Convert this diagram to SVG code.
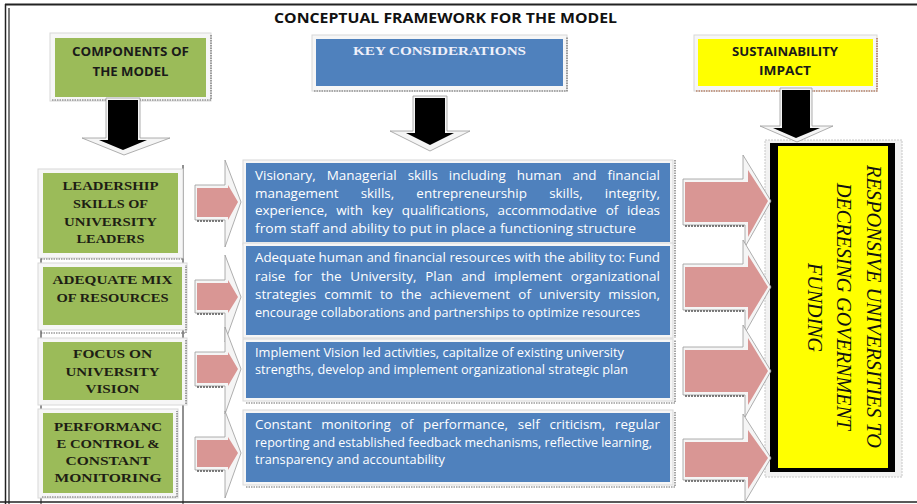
<svg xmlns="http://www.w3.org/2000/svg" width="917" height="504" viewBox="0 0 917 504">
<style>
.frame{stroke:#222;fill:none}
.halo{fill:#f6f6f6;stroke:#d8d8d8;stroke-width:1}
.dot{stroke:#6a6a6a;stroke-width:1.2;stroke-dasharray:1.5,1;fill:none}
.green{fill:#9BBB59}
.blue{fill:#4F81BD}
.yellow{fill:#FFFF00}
.hs{font-family:"Open Sans","Liberation Sans",sans-serif;font-weight:bold;fill:#1a1a1a;text-anchor:middle}
.sv{font-family:"Liberation Serif","Times New Roman",serif;font-weight:bold;font-size:13px;fill:#1e1e14;text-anchor:middle}
.bt{font-family:"Open Sans","Liberation Sans",sans-serif;font-size:12px;fill:#ffffff}
.vt{font-family:"Liberation Serif","Times New Roman",serif;font-style:italic;font-size:22px;fill:#111;text-anchor:middle}
.bev{fill:#f5f5f5;stroke:#9a9a9a;stroke-width:0.8}
.pink{fill:#D99694}
.blk{fill:#000}
.sh{stroke:#555;stroke-width:1.5;stroke-dasharray:2,1}
</style>

<!-- frame -->
<g id="frame">
<line class="frame" x1="5" y1="4.5" x2="917" y2="4.5" stroke-width="2"/>
<line class="frame" x1="5.5" y1="4" x2="5.5" y2="504" stroke-width="1.5"/>
<line class="frame" x1="9" y1="8" x2="9" y2="504" stroke-width="1.2"/>
<line class="frame" x1="0" y1="502" x2="917" y2="502" stroke-width="1.5"/>
<line class="frame" x1="183" y1="165" x2="183" y2="504" stroke-width="1"/>
<line class="frame" x1="41" y1="255" x2="41" y2="504" stroke-width="1"/>
</g>

<text id="title" x="445.5" y="22.5" font-family="'Open Sans','Liberation Sans',sans-serif" font-weight="bold" font-size="13.5" text-anchor="middle" textLength="343" lengthAdjust="spacingAndGlyphs" fill="#111">CONCEPTUAL FRAMEWORK FOR THE MODEL</text>

<!-- header boxes -->
<g id="header-components">
<rect class="halo" x="50" y="33" width="161" height="68"/>
<polyline class="dot" points="52,100 211,100 211,35"/>
<rect class="green" x="55" y="38" width="151" height="59"/>
<text class="hs" font-size="11.5" x="130.5" y="56" textLength="117" lengthAdjust="spacingAndGlyphs">COMPONENTS OF</text>
<text class="hs" font-size="11.5" x="130.5" y="76" textLength="76" lengthAdjust="spacingAndGlyphs">THE MODEL</text>
</g>
<g id="header-key">
<rect class="halo" x="312" y="35" width="255" height="56"/>
<polyline class="dot" points="314,91 567,91 567,37"/>
<rect class="blue" x="316" y="39" width="247" height="47"/>
<text x="439.5" y="55" font-family="'Liberation Serif','Times New Roman',serif" font-weight="bold" font-size="12" text-anchor="middle" fill="#eef0fa" textLength="173" lengthAdjust="spacingAndGlyphs">KEY CONSIDERATIONS</text>
</g>
<g id="header-impact">
<rect class="halo" x="694" y="35" width="183" height="56"/>
<polyline points="696,91 877,91 877,37" fill="none" stroke="#a0522d" stroke-width="1.2" stroke-dasharray="1.5,1"/>
<rect class="yellow" x="698" y="39" width="175" height="47"/>
<text class="hs" font-size="11.5" x="785" y="56" textLength="106" lengthAdjust="spacingAndGlyphs">SUSTAINABILITY</text>
<text class="hs" font-size="11.5" x="785" y="75" textLength="52" lengthAdjust="spacingAndGlyphs">IMPACT</text>
</g>

<!-- components -->
<g id="comp-leadership">
<rect class="halo" x="38" y="169" width="145" height="89"/>
<polyline class="dot" points="41,259 183,259"/>
<rect class="green" x="43" y="173" width="135" height="80"/>
<text class="sv" x="110.5" y="190" textLength="96" lengthAdjust="spacingAndGlyphs">LEADERSHIP</text>
<text class="sv" x="110.5" y="208" textLength="75" lengthAdjust="spacingAndGlyphs">SKILLS OF</text>
<text class="sv" x="110.5" y="226" textLength="93" lengthAdjust="spacingAndGlyphs">UNIVERSITY</text>
<text class="sv" x="110.5" y="243" textLength="68" lengthAdjust="spacingAndGlyphs">LEADERS</text>
</g>
<g id="comp-resources">
<rect class="halo" x="38" y="263" width="149" height="67"/>
<polyline class="dot" points="41,333 186,333 186,265"/>
<rect class="green" x="43" y="267" width="139" height="58"/>
<text class="sv" x="112.5" y="284" textLength="120" lengthAdjust="spacingAndGlyphs">ADEQUATE MIX</text>
<text class="sv" x="112.5" y="302" textLength="112" lengthAdjust="spacingAndGlyphs">OF RESOURCES</text>
</g>
<g id="comp-vision">
<rect class="halo" x="38" y="338" width="149" height="67"/>
<polyline class="dot" points="186,340 186,405"/>
<rect class="green" x="43" y="342" width="139" height="58"/>
<text class="sv" x="112.5" y="358" textLength="79" lengthAdjust="spacingAndGlyphs">FOCUS ON</text>
<text class="sv" x="112.5" y="376" textLength="94" lengthAdjust="spacingAndGlyphs">UNIVERSITY</text>
<text class="sv" x="112.5" y="393" textLength="54" lengthAdjust="spacingAndGlyphs">VISION</text>
</g>
<g id="comp-performance">
<rect class="halo" x="38" y="409" width="140" height="89"/>
<polyline class="dot" points="42,497 177,497 177,411"/>
<rect class="green" x="43" y="413" width="130" height="80"/>
<text class="sv" x="108" y="431" textLength="108" lengthAdjust="spacingAndGlyphs">PERFORMANC</text>
<text class="sv" x="108" y="448" textLength="103" lengthAdjust="spacingAndGlyphs">E CONTROL &amp;</text>
<text class="sv" x="108" y="465" textLength="85" lengthAdjust="spacingAndGlyphs">CONSTANT</text>
<text class="sv" x="108" y="482" textLength="107" lengthAdjust="spacingAndGlyphs">MONITORING</text>
</g>

<!-- key considerations -->
<g id="key-1">
<rect class="halo" x="243" y="160" width="430" height="85"/>
<polyline class="dot" points="675,160 675,245"/>
<rect class="blue" x="246" y="163" width="424" height="79"/>
<text class="bt" x="255" y="180" word-spacing="6.7" textLength="405" lengthAdjust="spacingAndGlyphs">Visionary, Managerial skills including human and financial</text>
<text class="bt" x="255" y="197.5" word-spacing="16.7" textLength="405" lengthAdjust="spacingAndGlyphs">management skills, entrepreneurship skills, integrity,</text>
<text class="bt" x="255" y="215" word-spacing="4.7" textLength="405" lengthAdjust="spacingAndGlyphs">experience, with key qualifications, accommodative of ideas</text>
<text class="bt" x="255" y="232.5" textLength="381" lengthAdjust="spacingAndGlyphs">from staff and ability to put in place a functioning structure</text>
</g>
<g id="key-2">
<rect class="halo" x="243" y="243" width="430" height="95"/>
<polyline class="dot" points="675,245 675,338"/>
<rect class="blue" x="246" y="246" width="424" height="89"/>
<text class="bt" x="255" y="262" textLength="405" lengthAdjust="spacingAndGlyphs">Adequate human and financial resources with the ability to: Fund</text>
<text class="bt" x="255" y="280.5" word-spacing="4.7" textLength="405" lengthAdjust="spacingAndGlyphs">raise for the University, Plan and implement organizational</text>
<text class="bt" x="255" y="299" word-spacing="4.2" textLength="405" lengthAdjust="spacingAndGlyphs">strategies commit to the achievement of university mission,</text>
<text class="bt" x="255" y="317" textLength="385" lengthAdjust="spacingAndGlyphs">encourage collaborations and partnerships to optimize resources</text>
</g>
<g id="key-3">
<rect class="halo" x="243" y="339" width="430" height="62"/>
<polyline class="dot" points="246,403 675,403 675,340"/>
<rect class="blue" x="246" y="342" width="424" height="56"/>
<text class="bt" x="255" y="356.5" textLength="369" lengthAdjust="spacingAndGlyphs">Implement Vision led activities, capitalize of existing university</text>
<text class="bt" x="255" y="374" textLength="373" lengthAdjust="spacingAndGlyphs">strengths, develop and implement organizational strategic plan</text>
</g>
<g id="key-4">
<rect class="halo" x="243" y="410" width="430" height="75"/>
<polyline class="dot" points="246,487 675,487 675,412"/>
<rect class="blue" x="246" y="413" width="424" height="69"/>
<text class="bt" x="255" y="429" word-spacing="5.7" textLength="405" lengthAdjust="spacingAndGlyphs">Constant monitoring of performance, self criticism, regular</text>
<text class="bt" x="255" y="446.5" textLength="397" lengthAdjust="spacingAndGlyphs">reporting and established feedback mechanisms, reflective learning,</text>
<text class="bt" x="255" y="464" textLength="190" lengthAdjust="spacingAndGlyphs">transparency and accountability</text>
</g>

<!-- impact box -->
<g id="impact-box">
<rect x="765" y="140" width="137" height="337" fill="#f2f2f2" stroke="#c8c8c8" stroke-width="1" stroke-dasharray="2,1"/>
<rect class="blk" x="770" y="143" width="125" height="329"/>
<rect class="yellow" x="778" y="146" width="110" height="322"/>
<text class="vt" transform="translate(867,306.5) rotate(90)" textLength="283" lengthAdjust="spacingAndGlyphs">RESPONSIVE UNIVERSITIES TO</text>
<text class="vt" transform="translate(837,306.5) rotate(90)" textLength="247" lengthAdjust="spacingAndGlyphs">DECRESING GOVERNMENT</text>
<text class="vt" transform="translate(808,307.5) rotate(90)" textLength="89" lengthAdjust="spacingAndGlyphs">FUNDING</text>
</g>

<!-- connectors -->
<g id="connectors">
<path class="bev" d="M106,98 H140 V138 H170 L124,155 L82,138 H106 Z"/>
<path class="blk" d="M108,100 H138 V140 H147 L123,150 L99,140 H108 Z"/>
<path class="bev" d="M413,96 H447 V131 H470 L430,151 L390,131 H413 Z"/>
<path class="blk" d="M415,98 H445 V133 H454 L430,145 L406,133 H415 Z"/>
<path class="bev" d="M780,88 H812 V126 H833 L797,142 L760,126 H780 Z"/>
<path class="blk" d="M782,90 H810 V128 H820 L796,138 L773,128 H782 Z"/>

<path class="bev" d="M195,185 H225 V160 L241,202 L225,247 V220 H195 Z"/>
<path class="pink" d="M197,188 H228 V185 L238,202 L228,220 V217 H197 Z"/>
<line class="sh" x1="197" y1="221" x2="224" y2="221"/>

<path class="bev" d="M195,280 H225 V255 L241,297 L225,342 V313 H195 Z"/>
<path class="pink" d="M197,283 H228 V280 L238,297 L228,313 V310 H197 Z"/>
<line class="sh" x1="197" y1="314" x2="224" y2="314"/>

<path class="bev" d="M195,352 H225 V327 L241,369 L225,414 V386 H195 Z"/>
<path class="pink" d="M197,355 H228 V352 L238,369 L228,386 V383 H197 Z"/>
<line class="sh" x1="197" y1="387" x2="224" y2="387"/>

<path class="bev" d="M195,437 H225 V411 L241,453 L225,498 V470 H195 Z"/>
<path class="pink" d="M197,440 H228 V437 L238,453 L228,470 V467 H197 Z"/>
<line class="sh" x1="197" y1="471" x2="224" y2="471"/>

<path class="bev" d="M683,179 H743 V155 L771,201 L745,247 V225 H683 Z"/>
<path class="pink" d="M685,182 H748 V170 L768,201 L748,237 V222 H685 Z"/>
<line class="sh" x1="685" y1="226" x2="744" y2="226"/>

<path class="bev" d="M683,264 H743 V240 L771,287 L745,333 V310 H683 Z"/>
<path class="pink" d="M685,267 H748 V255 L768,287 L748,320 V307 H685 Z"/>
<line class="sh" x1="685" y1="311" x2="744" y2="311"/>

<path class="bev" d="M683,347 H743 V325 L771,371 L745,417 V395 H683 Z"/>
<path class="pink" d="M685,350 H748 V338 L768,371 L748,405 V392 H685 Z"/>
<line class="sh" x1="685" y1="396" x2="744" y2="396"/>

<path class="bev" d="M683,439 H743 V414 L771,458 L745,502 V480 H683 Z"/>
<path class="pink" d="M685,442 H748 V430 L768,458 L748,489 V477 H685 Z"/>
<line class="sh" x1="685" y1="481" x2="744" y2="481"/>
</g>
</svg>
